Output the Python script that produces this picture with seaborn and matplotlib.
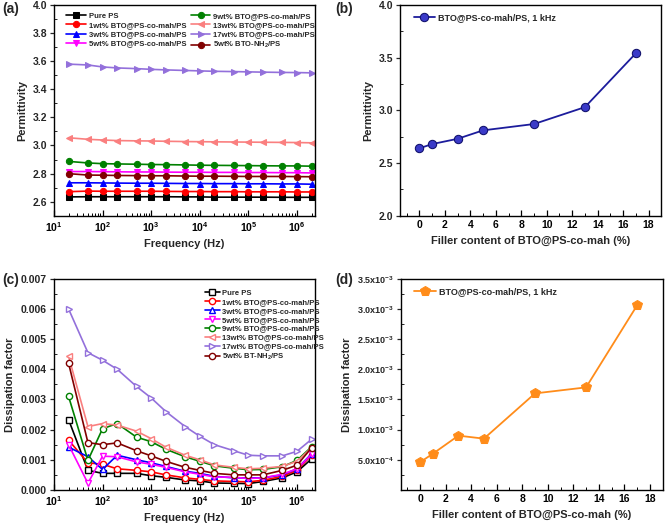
import numpy as np
import pandas as pd
import seaborn as sns
from matplotlib import pyplot as plt
from matplotlib.ticker import FixedLocator, MultipleLocator, FuncFormatter, LogLocator, NullFormatter

# frequencies (Hz)
freq = [20, 50, 100, 200, 500, 1e3, 2e3, 5e3, 1e4, 2e4, 5e4, 1e5, 2e5, 5e5, 1e6, 2e6]

labels_a = ['Pure PS', '1wt% BTO@PS-co-mah/PS', '3wt% BTO@PS-co-mah/PS', '5wt% BTO@PS-co-mah/PS',
            '9wt% BTO@PS-co-mah/PS', '13wt% BTO@PS-co-mah/PS', '17wt% BTO@PS-co-mah/PS',
            '5wt% BTO-NH$_2$/PS']
labels_c = ['Pure PS', '1wt% BTO@PS-co-mah/PS', '3wt% BTO@PS-co-mah/PS', '5wt% BTO@PS-co-mah/PS',
            '9wt% BTO@PS-co-mah/PS', '13wt% BTO@PS-co-mah/PS', '17wt% BTO@PS-co-mah/PS',
            '5wt% BT-NH$_2$/PS']

# permittivity vs frequency
eps_pure = [2.635, 2.636, 2.636, 2.636, 2.636, 2.636, 2.636, 2.635, 2.635, 2.633, 2.633, 2.633, 2.633, 2.632, 2.632, 2.632]
eps_1 = [2.672, 2.676, 2.675, 2.675, 2.675, 2.675, 2.674, 2.673, 2.673, 2.672, 2.672, 2.671, 2.671, 2.671, 2.670, 2.670]
eps_3 = [2.735, 2.735, 2.734, 2.733, 2.732, 2.732, 2.731, 2.730, 2.730, 2.729, 2.729, 2.728, 2.728, 2.727, 2.727, 2.725]
eps_5 = [2.815, 2.815, 2.814, 2.813, 2.812, 2.812, 2.811, 2.810, 2.810, 2.809, 2.809, 2.808, 2.808, 2.807, 2.807, 2.805]
eps_9 = [2.887, 2.876, 2.871, 2.869, 2.867, 2.865, 2.864, 2.862, 2.860, 2.859, 2.858, 2.857, 2.856, 2.855, 2.855, 2.853]
eps_13 = [3.055, 3.044, 3.039, 3.035, 3.033, 3.032, 3.030, 3.028, 3.027, 3.026, 3.025, 3.024, 3.023, 3.022, 3.021, 3.019]
eps_17 = [3.578, 3.572, 3.558, 3.551, 3.546, 3.541, 3.537, 3.533, 3.530, 3.527, 3.525, 3.523, 3.521, 3.519, 3.518, 3.516]
eps_nh2 = [2.800, 2.790, 2.789, 2.787, 2.786, 2.785, 2.785, 2.783, 2.782, 2.782, 2.781, 2.780, 2.780, 2.780, 2.779, 2.778]

# dissipation factor vs frequency
df_pure = [0.00233, 0.00065, 0.00055, 0.00055, 0.00055, 0.00047, 0.00042, 0.00033, 0.00030, 0.00023, 0.00022, 0.00021, 0.00028, 0.00040, 0.00060, 0.00103]
df_1 = [0.00165, 0.00090, 0.00085, 0.00070, 0.00065, 0.00060, 0.00050, 0.00040, 0.00035, 0.00030, 0.00028, 0.00027, 0.00032, 0.00045, 0.00065, 0.00115]
df_3 = [0.00142, 0.00110, 0.00068, 0.00115, 0.00100, 0.00090, 0.00078, 0.00062, 0.00055, 0.00045, 0.00040, 0.00040, 0.00040, 0.00050, 0.00070, 0.00120]
df_5 = [0.00150, 0.00022, 0.00112, 0.00110, 0.00093, 0.00085, 0.00075, 0.00060, 0.00052, 0.00043, 0.00042, 0.00038, 0.00040, 0.00052, 0.00070, 0.00118]
df_9 = [0.00310, 0.00098, 0.00203, 0.00220, 0.00175, 0.00160, 0.00135, 0.00110, 0.00095, 0.00080, 0.00072, 0.00067, 0.00068, 0.00077, 0.00098, 0.00143]
df_13 = [0.00443, 0.00210, 0.00220, 0.00215, 0.00195, 0.00170, 0.00142, 0.00115, 0.00100, 0.00083, 0.00075, 0.00070, 0.00072, 0.00078, 0.00095, 0.00140]
df_17 = [0.00600, 0.00455, 0.00430, 0.00400, 0.00343, 0.00305, 0.00260, 0.00210, 0.00178, 0.00150, 0.00130, 0.00115, 0.00113, 0.00113, 0.00128, 0.00168]
df_nh2 = [0.00420, 0.00157, 0.00150, 0.00156, 0.00130, 0.00113, 0.00095, 0.00075, 0.00065, 0.00055, 0.00050, 0.00050, 0.00050, 0.00065, 0.00082, 0.00140]

# values at 1 kHz vs filler content
filler = [0, 1, 3, 5, 9, 13, 17]
eps_1k = [2.64, 2.68, 2.73, 2.81, 2.87, 3.03, 3.54]
df_1k = [0.00046, 0.00060, 0.00090, 0.00085, 0.00160, 0.00170, 0.00306]

colors = ['black', '#FF0000', '#0000FF', '#FF00FF', '#008000', '#FA7F7F', '#9370DB', '#800000']
markers = ['s', 'o', '^', 'v', 'o', '<', '>', 'o']

sns.set_theme(style='white')
plt.rcParams['font.family'] = ['Liberation Sans', 'DejaVu Sans']
plt.rcParams['font.weight'] = 'bold'
plt.rcParams['axes.labelweight'] = 'bold'
plt.rcParams['mathtext.fontset'] = 'custom'
plt.rcParams['mathtext.rm'] = 'Liberation Sans:bold'
plt.rcParams['mathtext.it'] = 'Liberation Sans:bold'
plt.rcParams['mathtext.bf'] = 'Liberation Sans:bold'

fig = plt.figure(figsize=(6.66, 5.24), dpi=100)
ax_a = fig.add_axes([0.081, 0.588, 0.392, 0.403])
ax_b = fig.add_axes([0.601, 0.588, 0.392, 0.403])
ax_c = fig.add_axes([0.081, 0.065, 0.392, 0.403])
ax_d = fig.add_axes([0.602, 0.065, 0.393, 0.403])


def style_axes(ax):
    for s in ax.spines.values():
        s.set_color('black')
        s.set_linewidth(1.0)
    ax.tick_params(axis='x', which='both', direction='in', colors='black', labelsize=7.5, pad=3)
    ax.tick_params(axis='x', which='major', length=4, width=0.9)
    ax.tick_params(axis='x', which='minor', length=2, width=0.7)
    ax.tick_params(axis='y', which='major', direction='out', length=3, width=0.9, labelsize=7.5, pad=2)
    ax.tick_params(axis='y', which='minor', direction='in', length=2, width=0.7)
    ax.tick_params(bottom=True, left=True, which='both')
    ax.xaxis.label.set_size(8)
    ax.yaxis.label.set_size(8)


def log_freq_axis(ax):
    ax.set_xscale('log')
    ax.set_xlim(10, 2.35e6)
    ax.xaxis.set_major_locator(LogLocator(base=10, numticks=10))
    ax.xaxis.set_minor_locator(LogLocator(base=10, subs=np.arange(2, 10), numticks=20))
    ax.xaxis.set_minor_formatter(NullFormatter())
    ax.set_xlabel('Frequency (Hz)', labelpad=4)


# (a) permittivity
eps_series = [eps_pure, eps_1, eps_3, eps_5, eps_9, eps_13, eps_17, eps_nh2]
for vals, lab, c, m in zip(eps_series, labels_a, colors, markers):
    sns.lineplot(x=freq, y=vals, ax=ax_a, color=c, marker=m, markersize=4.5,
                 markeredgecolor=c, linewidth=1.2, label=lab)
log_freq_axis(ax_a)
ax_a.set_ylim(2.5, 4.0)
ax_a.yaxis.set_major_locator(MultipleLocator(0.2))
ax_a.yaxis.set_minor_locator(MultipleLocator(0.1))
ax_a.set_ylabel('Permittivity', labelpad=4)
style_axes(ax_a)
ax_a.legend(ncol=2, loc='upper left', bbox_to_anchor=(0.03, 0.985), frameon=False,
            fontsize=5.5, handlelength=2.6, handletextpad=0.3, labelspacing=0.25,
            columnspacing=0.6, borderaxespad=0.2)

# (b) permittivity at 1 kHz
sns.lineplot(x=filler, y=eps_1k, ax=ax_b, color='#1C1C9C', marker='o', markersize=6,
             markeredgecolor='#10106A', markerfacecolor='#3A3AC8', linewidth=1.3,
             label='BTO@PS-co-mah/PS, 1 kHz')
ax_b.set_xlim(-1.5, 19)
ax_b.set_ylim(2.0, 4.0)
ax_b.xaxis.set_major_locator(MultipleLocator(2))
ax_b.xaxis.set_minor_locator(MultipleLocator(1))
ax_b.yaxis.set_major_locator(MultipleLocator(0.5))
ax_b.yaxis.set_minor_locator(MultipleLocator(0.25))
ax_b.yaxis.set_major_formatter(FuncFormatter(lambda v, p: f'{v:.1f}'))
ax_b.set_xlabel('Filler content of BTO@PS-co-mah (%)', labelpad=4)
ax_b.set_ylabel('Permittivity', labelpad=4)
style_axes(ax_b)
ax_b.legend(loc='upper left', bbox_to_anchor=(0.03, 0.985), frameon=False, fontsize=6.5,
            handlelength=2.4, handletextpad=0.3, borderaxespad=0.2)

# (c) dissipation factor
df_series = [df_pure, df_1, df_3, df_5, df_9, df_13, df_17, df_nh2]
for vals, lab, c, m in zip(df_series, labels_c, colors, markers):
    sns.lineplot(x=freq, y=vals, ax=ax_c, color=c, marker=m, markersize=4.5,
                 markeredgecolor=c, markerfacecolor='white', markeredgewidth=1.0,
                 linewidth=1.2, label=lab)
log_freq_axis(ax_c)
ax_c.set_ylim(0, 0.007)
ax_c.yaxis.set_major_locator(MultipleLocator(0.001))
ax_c.yaxis.set_minor_locator(MultipleLocator(0.0005))
ax_c.yaxis.set_major_formatter(FuncFormatter(lambda v, p: f'{v:.3f}'))
ax_c.set_ylabel('Dissipation factor', labelpad=4)
style_axes(ax_c)
ax_c.legend(loc='upper left', bbox_to_anchor=(0.56, 0.97), frameon=False, fontsize=5.5,
            handlelength=2.0, handletextpad=0.2, labelspacing=0.2, borderaxespad=0.2)

# (d) dissipation factor at 1 kHz
sns.lineplot(x=filler, y=df_1k, ax=ax_d, color='#FF8C1A', marker='p', markersize=7,
             markeredgecolor='#FF8C1A', linewidth=1.3, label='BTO@PS-co-mah/PS, 1 kHz')
ax_d.set_xlim(-1.5, 19)
ax_d.set_ylim(0, 0.0035)
ax_d.xaxis.set_major_locator(MultipleLocator(2))
ax_d.xaxis.set_minor_locator(MultipleLocator(1))
ax_d.yaxis.set_major_locator(FixedLocator(np.arange(1, 8) * 0.0005))
ax_d.yaxis.set_minor_locator(MultipleLocator(0.00025))


def sci_fmt(v, p):
    e = int(np.floor(np.log10(v)))
    m = v / 10 ** e
    return f'{m:.1f}x10$^{{{e}}}$'


ax_d.yaxis.set_major_formatter(FuncFormatter(sci_fmt))
ax_d.set_xlabel('Filler content of BTO@PS-co-mah (%)', labelpad=4)
ax_d.set_ylabel('Dissipation factor', labelpad=4)
style_axes(ax_d)
ax_d.tick_params(axis='y', which='major', labelsize=6.5)
ax_d.legend(loc='upper left', bbox_to_anchor=(0.03, 0.985), frameon=False, fontsize=6.5,
            handlelength=2.4, handletextpad=0.3, borderaxespad=0.2)

# panel letters
fig.text(0.003, 0.997, '(a)', fontsize=10, fontweight='bold', va='top')
fig.text(0.503, 0.997, '(b)', fontsize=10, fontweight='bold', va='top')
fig.text(0.003, 0.479, '(c)', fontsize=10, fontweight='bold', va='top')
fig.text(0.503, 0.479, '(d)', fontsize=10, fontweight='bold', va='top')

fig.savefig('out.png', dpi=100)
